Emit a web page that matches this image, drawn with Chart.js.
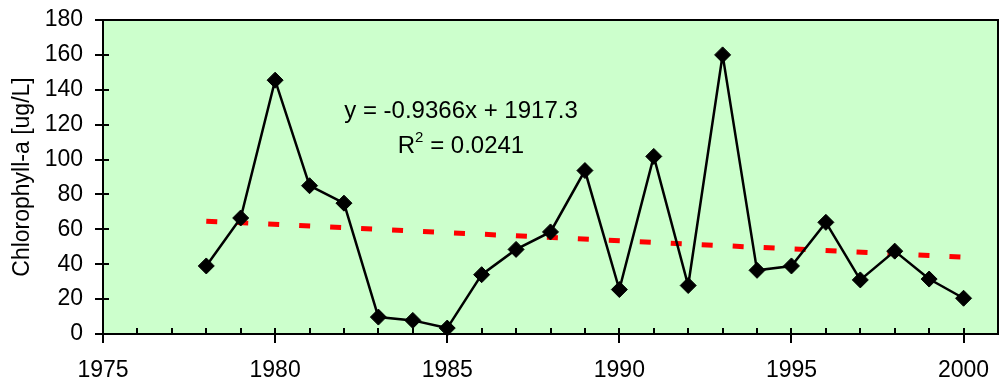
<!DOCTYPE html>
<html><head><meta charset="utf-8">
<script src="https://cdn.jsdelivr.net/npm/chart.js@4/dist/chart.umd.min.js"></script>
<style>html,body{margin:0;padding:0;background:#fff}#wrap{width:1000px;height:385px}</style>
</head><body><div id="wrap"><canvas id="c" width="1000" height="385"></canvas></div>
<script>
const years = [1978,1979,1980,1981,1982,1983,1984,1985,1986,1987,1988,1989,1990,1991,1992,1993,1994,1995,1996,1997,1998,1999,2000];
const chlorophyll = [39,66.5,145.5,85,75,9.7,7.8,3.4,34,48.5,58.5,93.7,25.5,101.8,27.8,160,36.5,39,64,31,47.5,31.5,20.5];
const trendYears = [1978,2000];
const trendValues = [64.7,44.1];
const xTickLabels = [1975,1980,1985,1990,1995,2000];
const yTickLabels = [0,20,40,60,80,100,120,140,160,180];
const equationText = 'y = -0.9366x + 1917.3';
const r2Text = '= 0.0241';
const yTitle = 'Chlorophyll-a [ug/L]';

const FONT = 'Liberation Sans, Arial, sans-serif';

const plotDeco = {
  id:'plotDeco',
  beforeDraw(chart){
    const {ctx, chartArea:a} = chart;
    ctx.save();
    ctx.fillStyle = '#CCFFCC';
    ctx.fillRect(a.left, a.top, a.right-a.left, a.bottom-a.top);
    ctx.restore();
  },
  afterDatasetsDraw(chart){
    const {ctx, chartArea:a, scales} = chart;
    const x = scales.x, y = scales.y;
    ctx.save();
    ctx.strokeStyle = '#000';
    ctx.lineWidth = 2;
    ctx.strokeRect(a.left, a.top, a.right-a.left, a.bottom-a.top);
    ctx.beginPath();
    for (let yr = 1975; yr <= 2001; yr++) {
      const px = Math.round(x.getPixelForValue(yr));
      if (yr % 5 === 0) { ctx.moveTo(px, a.bottom-6); ctx.lineTo(px, a.bottom+9); }
      else { ctx.moveTo(px, a.bottom-6); ctx.lineTo(px, a.bottom); }
    }
    yTickLabels.forEach(v => {
      const py = Math.round(y.getPixelForValue(v));
      ctx.moveTo(a.left-8, py); ctx.lineTo(a.left+6, py);
    });
    ctx.stroke();
    // equation
    ctx.fillStyle = '#000';
    ctx.font = '24px ' + FONT;
    ctx.textAlign = 'center';
    ctx.textBaseline = 'middle';
    ctx.fillText(equationText, 461, 111);
    // R^2 line
    ctx.textAlign = 'left';
    const rW = ctx.measureText('R').width;
    ctx.font = '15px ' + FONT;
    const sW = ctx.measureText('2').width;
    ctx.font = '24px ' + FONT;
    const restW = ctx.measureText(' ' + r2Text).width;
    const total = rW + sW + restW;
    let sx = 461 - total/2;
    ctx.fillText('R', sx, 146);
    ctx.font = '15px ' + FONT;
    ctx.fillText('2', sx + rW, 138);
    ctx.font = '24px ' + FONT;
    ctx.fillText(' ' + r2Text, sx + rW + sW, 146);
    ctx.restore();
  }
};

function zeroPad(s){ s.paddingLeft = 0; s.paddingRight = 0; s.paddingTop = 0; s.paddingBottom = 0; }

new Chart(document.getElementById('c'), {
  type:'scatter',
  data:{
    datasets:[
      {
        data: trendYears.map((x,i)=>({x, y: trendValues[i]})),
        showLine:true, borderColor:'#FF0000', borderWidth:5, borderDash:[11,20],
        pointRadius:0, fill:false, order:2, clip:false
      },
      {
        data: years.map((x,i)=>({x, y: chlorophyll[i]})),
        showLine:true, borderColor:'#000', borderWidth:2.5,
        pointStyle:'rectRot', pointRadius:8, pointBackgroundColor:'#000', pointBorderColor:'#000', pointBorderWidth:1,
        fill:false, order:1, clip:false
      }
    ]
  },
  options:{
    responsive:false, animation:false, devicePixelRatio:1,
    layout:{autoPadding:false, padding:{top:20,right:2,left:0,bottom:0}},
    plugins:{legend:{display:false}, tooltip:{enabled:false}},
    scales:{
      x:{
        type:'linear', min:1975, max:2001,
        afterBuildTicks(s){ s.ticks = xTickLabels.map(v=>({value:v})); },
        afterFit(s){ s.height = 51; zeroPad(s); },
        grid:{drawOnChartArea:false, color:'transparent', tickLength:8},
        border:{display:false},
        ticks:{color:'#000', font:{family:FONT, size:23}, padding:15, maxRotation:0, autoSkip:false,
          callback:(v)=>String(v)}
      },
      y:{
        min:0, max:180,
        afterBuildTicks(s){ s.ticks = yTickLabels.map(v=>({value:v})); },
        afterFit(s){ s.width = 103; zeroPad(s); },
        grid:{drawOnChartArea:false, color:'transparent', tickLength:8},
        border:{display:false},
        ticks:{color:'#000', font:{family:FONT, size:23}, padding:12, callback:(v)=>String(v)},
        title:{display:true, text:yTitle, color:'#000', font:{family:FONT, size:23}, padding:{top:9,bottom:0}}
      }
    }
  },
  plugins:[plotDeco]
});
</script>
</body></html>
